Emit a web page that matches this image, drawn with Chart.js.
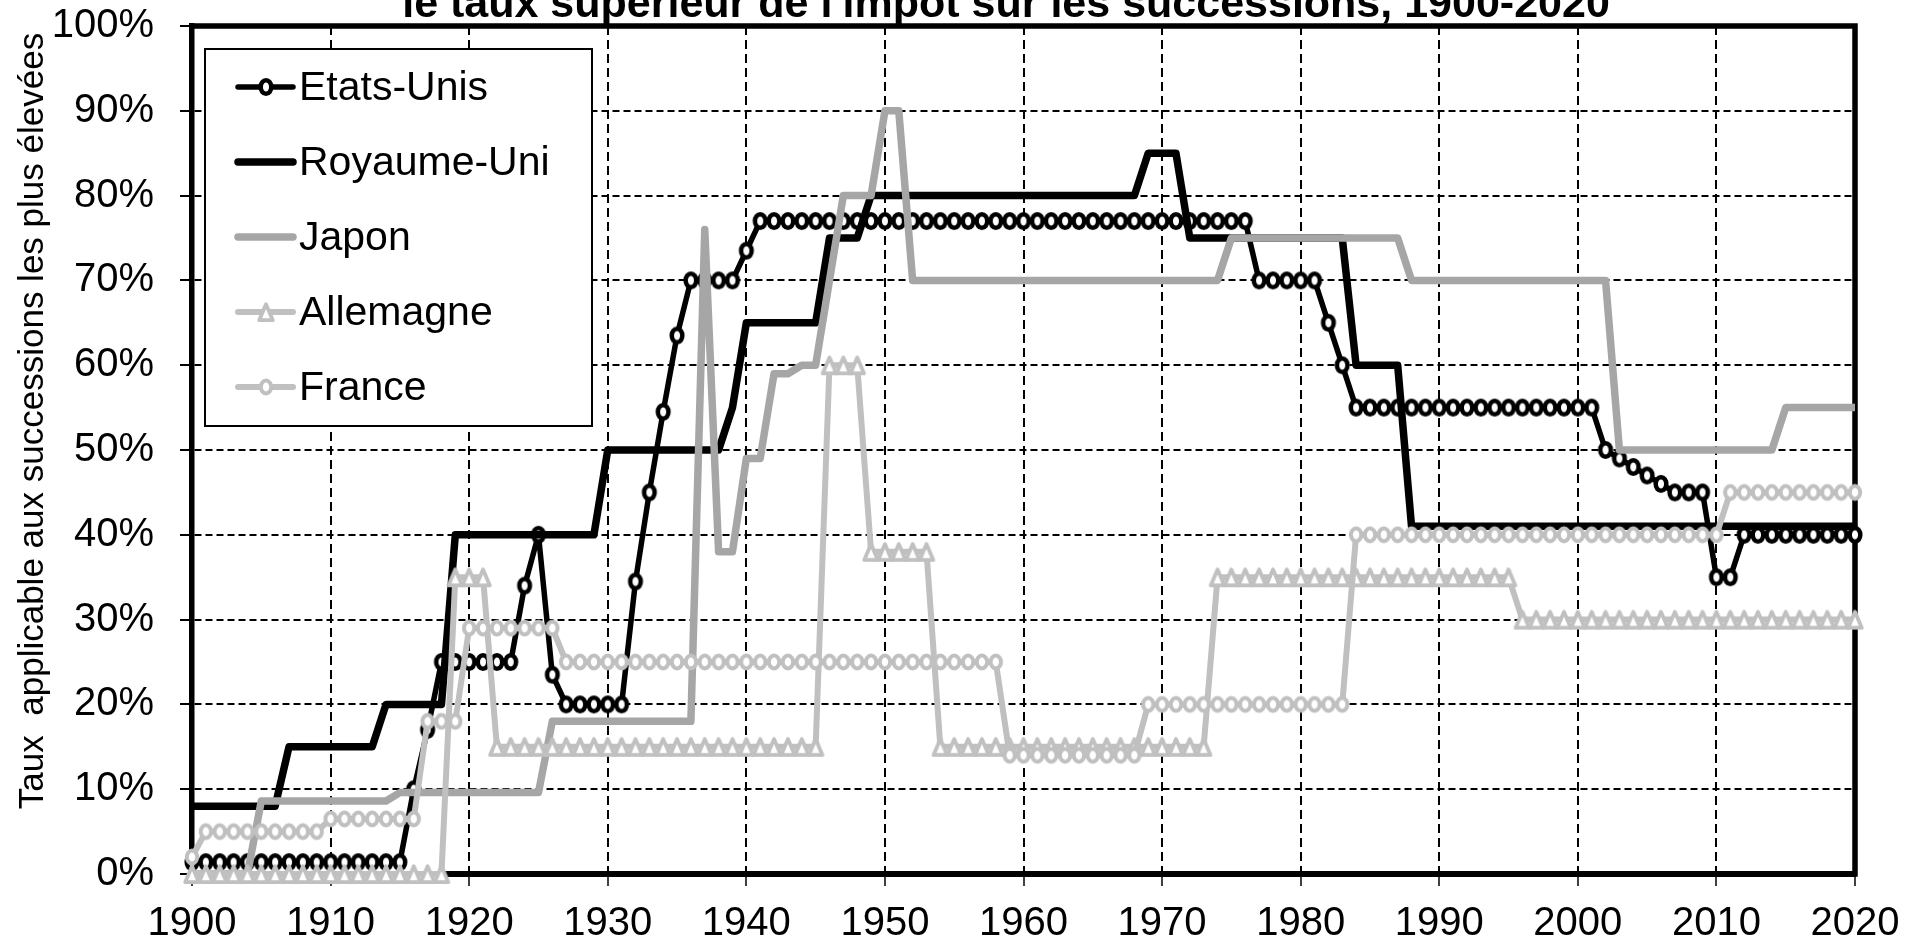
<!DOCTYPE html>
<html lang="fr">
<head>
<meta charset="utf-8">
<title>Taux supérieur de l'impôt sur les successions, 1900-2020</title>
<script src="https://cdn.jsdelivr.net/npm/chart.js"></script>
<style>
  html, body { margin: 0; padding: 0; background: #fff; }
  canvas { display: block; }
</style>
</head>
<body>
<canvas id="myChart" width="1921" height="944"></canvas>
<script>
// DATA (taux en %, une valeur par année)
const years = [
  1900, 1901, 1902, 1903, 1904, 1905, 1906, 1907, 1908, 1909,
  1910, 1911, 1912, 1913, 1914, 1915, 1916, 1917, 1918, 1919,
  1920, 1921, 1922, 1923, 1924, 1925, 1926, 1927, 1928, 1929,
  1930, 1931, 1932, 1933, 1934, 1935, 1936, 1937, 1938, 1939,
  1940, 1941, 1942, 1943, 1944, 1945, 1946, 1947, 1948, 1949,
  1950, 1951, 1952, 1953, 1954, 1955, 1956, 1957, 1958, 1959,
  1960, 1961, 1962, 1963, 1964, 1965, 1966, 1967, 1968, 1969,
  1970, 1971, 1972, 1973, 1974, 1975, 1976, 1977, 1978, 1979,
  1980, 1981, 1982, 1983, 1984, 1985, 1986, 1987, 1988, 1989,
  1990, 1991, 1992, 1993, 1994, 1995, 1996, 1997, 1998, 1999,
  2000, 2001, 2002, 2003, 2004, 2005, 2006, 2007, 2008, 2009,
  2010, 2011, 2012, 2013, 2014, 2015, 2016, 2017, 2018, 2019, 2020
];

const etatsUnis = [
  1.4, 1.4, 1.4, 1.4, 1.4, 1.4, 1.4, 1.4, 1.4, 1.4,
  1.4, 1.4, 1.4, 1.4, 1.4, 1.4, 10, 17, 25, 25,
  25, 25, 25, 25, 34, 40, 23.5, 20, 20, 20,
  20, 20, 34.5, 45, 54.5, 63.5, 70, 70, 70, 70,
  73.5, 77, 77, 77, 77, 77, 77, 77, 77, 77,
  77, 77, 77, 77, 77, 77, 77, 77, 77, 77,
  77, 77, 77, 77, 77, 77, 77, 77, 77, 77,
  77, 77, 77, 77, 77, 77, 77, 70, 70, 70,
  70, 70, 65, 60, 55, 55, 55, 55, 55, 55,
  55, 55, 55, 55, 55, 55, 55, 55, 55, 55,
  55, 55, 50, 49, 48, 47, 46, 45, 45, 45,
  35, 35, 40, 40, 40, 40, 40, 40, 40, 40, 40
];

const royaumeUni = [
  8, 8, 8, 8, 8, 8, 8, 15, 15, 15,
  15, 15, 15, 15, 20, 20, 20, 20, 20, 40,
  40, 40, 40, 40, 40, 40, 40, 40, 40, 40,
  50, 50, 50, 50, 50, 50, 50, 50, 50, 55,
  65, 65, 65, 65, 65, 65, 75, 75, 75, 80,
  80, 80, 80, 80, 80, 80, 80, 80, 80, 80,
  80, 80, 80, 80, 80, 80, 80, 80, 80, 85,
  85, 85, 75, 75, 75, 75, 75, 75, 75, 75,
  75, 75, 75, 75, 60, 60, 60, 60, 41, 41,
  41, 41, 41, 41, 41, 41, 41, 41, 41, 41,
  41, 41, 41, 41, 41, 41, 41, 41, 41, 41,
  41, 41, 41, 41, 41, 41, 41, 41, 41, 41, 41
];

const japon = [
  0, 0, 0, 0, 0, 8.6, 8.6, 8.6, 8.6, 8.6,
  8.6, 8.6, 8.6, 8.6, 8.6, 9.6, 9.6, 9.6, 9.6, 9.6,
  9.6, 9.6, 9.6, 9.6, 9.6, 9.6, 18, 18, 18, 18,
  18, 18, 18, 18, 18, 18, 18, 76, 38, 38,
  49, 49, 59, 59, 60, 60, 70, 80, 80, 80,
  90, 90, 70, 70, 70, 70, 70, 70, 70, 70,
  70, 70, 70, 70, 70, 70, 70, 70, 70, 70,
  70, 70, 70, 70, 70, 75, 75, 75, 75, 75,
  75, 75, 75, 75, 75, 75, 75, 75, 70, 70,
  70, 70, 70, 70, 70, 70, 70, 70, 70, 70,
  70, 70, 70, 50, 50, 50, 50, 50, 50, 50,
  50, 50, 50, 50, 50, 55, 55, 55, 55, 55, 55
];

const allemagne = [
  0, 0, 0, 0, 0, 0, 0, 0, 0, 0,
  0, 0, 0, 0, 0, 0, 0, 0, 0, 35,
  35, 35, 15, 15, 15, 15, 15, 15, 15, 15,
  15, 15, 15, 15, 15, 15, 15, 15, 15, 15,
  15, 15, 15, 15, 15, 15, 60, 60, 60, 38,
  38, 38, 38, 38, 15, 15, 15, 15, 15, 15,
  15, 15, 15, 15, 15, 15, 15, 15, 15, 15,
  15, 15, 15, 15, 35, 35, 35, 35, 35, 35,
  35, 35, 35, 35, 35, 35, 35, 35, 35, 35,
  35, 35, 35, 35, 35, 35, 30, 30, 30, 30,
  30, 30, 30, 30, 30, 30, 30, 30, 30, 30,
  30, 30, 30, 30, 30, 30, 30, 30, 30, 30, 30
];

const france = [
  2, 5, 5, 5, 5, 5, 5, 5, 5, 5,
  6.5, 6.5, 6.5, 6.5, 6.5, 6.5, 6.5, 18, 18, 18,
  29, 29, 29, 29, 29, 29, 29, 25, 25, 25,
  25, 25, 25, 25, 25, 25, 25, 25, 25, 25,
  25, 25, 25, 25, 25, 25, 25, 25, 25, 25,
  25, 25, 25, 25, 25, 25, 25, 25, 25, 14,
  14, 14, 14, 14, 14, 14, 14, 14, 14, 20,
  20, 20, 20, 20, 20, 20, 20, 20, 20, 20,
  20, 20, 20, 20, 40, 40, 40, 40, 40, 40,
  40, 40, 40, 40, 40, 40, 40, 40, 40, 40,
  40, 40, 40, 40, 40, 40, 40, 40, 40, 40,
  40, 45, 45, 45, 45, 45, 45, 45, 45, 45, 45
];

const yTicks = [0, 10, 20, 30, 40, 50, 60, 70, 80, 90, 100];
const xTicks = [1900, 1910, 1920, 1930, 1940, 1950, 1960, 1970, 1980, 1990, 2000, 2010, 2020];

const titleText = "le taux supérieur de l'impôt sur les successions, 1900-2020";
const yTitleText = 'Taux  applicable aux successions les plus élevées';

const FONT = '"Liberation Sans", Arial, Helvetica, sans-serif';
Chart.defaults.font.family = FONT;
Chart.defaults.color = '#000';

// marqueurs (ovales / triangles évidés) dessinés une fois, utilisés comme pointStyle
function ovalMarker(rx, ry, lw, color) {
  const c = document.createElement('canvas');
  c.width = 26; c.height = 26;
  const g = c.getContext('2d');
  g.beginPath();
  g.ellipse(13, 13, rx, ry, 0, 0, Math.PI * 2);
  g.fillStyle = '#fff';
  g.fill();
  g.lineWidth = lw;
  g.strokeStyle = color;
  g.stroke();
  return c;
}

function triangleMarker(halfW, top, bottom, lw, color) {
  const c = document.createElement('canvas');
  c.width = 28; c.height = 28;
  const g = c.getContext('2d');
  g.beginPath();
  g.moveTo(14, 14 - top);
  g.lineTo(14 + halfW, 14 + bottom);
  g.lineTo(14 - halfW, 14 + bottom);
  g.closePath();
  g.fillStyle = '#fff';
  g.fill();
  g.lineJoin = 'round';
  g.lineWidth = lw;
  g.strokeStyle = color;
  g.stroke();
  return c;
}

const usMarker = ovalMarker(5.3, 6.8, 4.5, '#000');
const frMarker = ovalMarker(5.2, 6.5, 4, '#c0c0c0');
const deMarker = triangleMarker(6.8, 7.8, 8.2, 3.8, '#c0c0c0');

// cadre haut / droite (gauche et bas = bordures des axes)
const frame = {
  id: 'frame',
  beforeDatasetsDraw(chart) {
    const { ctx, chartArea: a } = chart;
    ctx.save();
    ctx.strokeStyle = '#000';
    ctx.lineWidth = 5.5;
    ctx.lineCap = 'square';
    ctx.beginPath();
    ctx.moveTo(a.left, a.top);
    ctx.lineTo(a.right, a.top);
    ctx.lineTo(a.right, a.bottom);
    ctx.stroke();
    ctx.restore();
  }
};

// légende encadrée dans la zone du graphique
const legendBox = {
  id: 'legendBox',
  afterDatasetsDraw(chart) {
    const { ctx, chartArea: a } = chart;
    const x0 = a.left + 13, y0 = a.top + 23, w = 387, h = 377;
    ctx.save();
    ctx.fillStyle = '#fff';
    ctx.fillRect(x0, y0, w, h);
    ctx.lineWidth = 2;
    ctx.strokeStyle = '#000';
    ctx.strokeRect(x0, y0, w, h);
    chart.data.datasets.forEach((ds, i) => {
      const cy = y0 + 38 + i * 75;
      ctx.strokeStyle = ds.borderColor;
      ctx.lineWidth = ds.borderWidth;
      ctx.lineCap = 'round';
      ctx.beginPath();
      ctx.moveTo(x0 + 33, cy);
      ctx.lineTo(x0 + 88, cy);
      ctx.stroke();
      if (ds.pointRadius > 0) {
        Chart.helpers.drawPoint(ctx, {
          pointStyle: ds.pointStyle, radius: ds.pointRadius, rotation: 0, borderWidth: 0
        }, Math.round(x0 + 60.5), cy);
      }
      ctx.fillStyle = '#000';
      ctx.font = '41px ' + FONT;
      ctx.textAlign = 'left';
      ctx.textBaseline = 'alphabetic';
      ctx.fillText(ds.label, x0 + 94, cy + 12.5);
    });
    ctx.restore();
  }
};

// titre (coupé en haut) et titre vertical de l'axe
const texts = {
  id: 'texts',
  afterDraw(chart) {
    const { ctx, chartArea: a } = chart;
    ctx.save();
    ctx.fillStyle = '#000';
    ctx.font = 'bold 43px ' + FONT;
    ctx.textAlign = 'center';
    ctx.textBaseline = 'alphabetic';
    ctx.fillText(titleText, 1006, 17);

    ctx.translate(43, a.top + 395);
    ctx.rotate(-Math.PI / 2);
    ctx.font = '35px ' + FONT;
    ctx.fillText(yTitleText, 0, 0);
    ctx.restore();
  }
};

const lineDefaults = {
  fill: false,
  tension: 0,
  clip: false,
  borderJoinStyle: 'round',
  pointHoverRadius: 0
};

const data = {
  labels: years,
  datasets: [
    Object.assign({}, lineDefaults, {
      label: 'Etats-Unis', data: etatsUnis, order: 5,
      borderColor: '#000', borderWidth: 5.5,
      pointStyle: usMarker, pointRadius: 8
    }),
    Object.assign({}, lineDefaults, {
      label: 'Royaume-Uni', data: royaumeUni, order: 4,
      borderColor: '#000', borderWidth: 7.5, pointRadius: 0
    }),
    Object.assign({}, lineDefaults, {
      label: 'Japon', data: japon, order: 3,
      borderColor: '#a6a6a6', borderWidth: 7.5, pointRadius: 0
    }),
    Object.assign({}, lineDefaults, {
      label: 'Allemagne', data: allemagne, order: 2,
      borderColor: '#c0c0c0', borderWidth: 6,
      pointStyle: deMarker, pointRadius: 9
    }),
    Object.assign({}, lineDefaults, {
      label: 'France', data: france, order: 1,
      borderColor: '#c0c0c0', borderWidth: 6,
      pointStyle: frMarker, pointRadius: 8
    })
  ]
};

const config = {
  type: 'line',
  data: data,
  options: {
    responsive: false,
    devicePixelRatio: 1,
    animation: false,
    events: [],
    layout: { padding: { top: 26, right: 66, left: 0, bottom: 0 } },
    plugins: {
      legend: { display: false },
      title: { display: false },
      tooltip: { enabled: false }
    },
    scales: {
      x: {
        type: 'linear',
        min: 1900,
        max: 2020,
        afterFit: (s) => { s.height = 70; },
        afterBuildTicks: (s) => { s.ticks = xTicks.map(v => ({ value: v })); },
        ticks: {
          font: { size: 40 }, color: '#000', padding: 14,
          maxRotation: 0, autoSkip: false,
          callback: (v) => String(v)
        },
        grid: { color: '#000', lineWidth: 2, tickLength: 12, tickWidth: 1.5, tickColor: '#000' },
        border: { color: '#000', width: 6, dash: [9, 5] }
      },
      y: {
        min: 0,
        max: 100,
        afterFit: (s) => { s.width = 192; s.paddingTop = 0; s.paddingBottom = 0; },
        afterBuildTicks: (s) => { s.ticks = yTicks.map(v => ({ value: v })); },
        ticks: {
          font: { size: 40 }, color: '#000', padding: 26,
          callback: (v) => v + '%'
        },
        grid: { color: '#000', lineWidth: 2, tickLength: 12, tickWidth: 2, tickColor: '#000' },
        border: { color: '#000', width: 5.5, dash: [7, 4] }
      }
    }
  },
  plugins: [frame, legendBox, texts]
};

const myChart = new Chart(document.getElementById('myChart'), config);
</script>
</body>
</html>
